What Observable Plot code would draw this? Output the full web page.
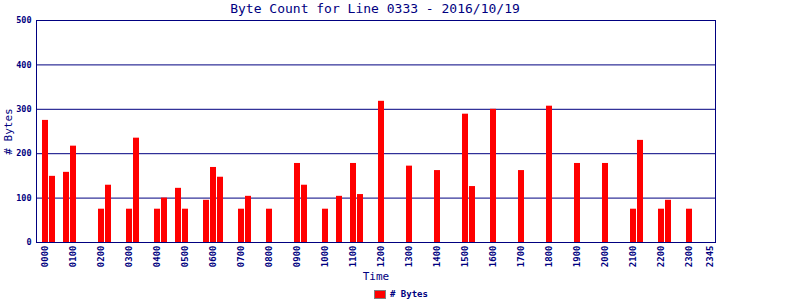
<!DOCTYPE html>
<html><head><meta charset="utf-8">
<script src="https://cdn.jsdelivr.net/npm/d3@7"></script>
<script src="https://cdn.jsdelivr.net/npm/@observablehq/plot@0.6"></script>
<style>
body{margin:0;background:#fff;width:800px;height:300px;overflow:hidden;font-family:"DejaVu Sans Mono",monospace;position:relative}
#title{position:absolute;top:0;left:375px;transform:translateX(-50%);white-space:nowrap;font-size:13px;line-height:18px;color:#000080}
#chart{position:absolute;top:0;left:0}
#legend{position:absolute;top:289px;left:374px;font-size:9px;line-height:11px;font-weight:bold;color:#000080;display:flex;align-items:center;gap:4px}
#legend i{display:inline-block;width:10px;height:7px;background:#ff0000;border:1px solid #808080}
</style></head>
<body>
<div id="chart"></div>
<div id="title">Byte Count for Line 0333 - 2016/10/19</div>
<div id="legend"><i></i><span># Bytes</span></div>
<script>
const slots = ["0000","0015","0030","0045","0100","0115","0130","0145","0200","0215","0230","0245",
"0300","0315","0330","0345","0400","0415","0430","0445","0500","0515","0530","0545",
"0600","0615","0630","0645","0700","0715","0730","0745","0800","0815","0830","0845",
"0900","0915","0930","0945","1000","1015","1030","1045","1100","1115","1130","1145",
"1200","1215","1230","1245","1300","1315","1330","1345","1400","1415","1430","1445",
"1500","1515","1530","1545","1600","1615","1630","1645","1700","1715","1730","1745",
"1800","1815","1830","1845","1900","1915","1930","1945","2000","2015","2030","2045",
"2100","2115","2130","2145","2200","2215","2230","2245","2300","2315","2330","2345"];
const tickLabels = ["0000","0100","0200","0300","0400","0500","0600","0700","0800","0900","1000","1100",
"1200","1300","1400","1500","1600","1700","1800","1900","2000","2100","2200","2300","2345"];
const barTimes = ["0000","0015","0045","0100","0200","0215","0300","0315","0400","0415","0445","0500",
"0545","0600","0615","0700","0715","0800","0900","0915","1000","1030","1100","1115","1200",
"1300","1400","1500","1515","1600","1700","1800","1900","2000","2100","2115","2200","2215","2300"];
const barBytes = [275,149,158,217,75,129,75,235,75,100,122,75,
95,169,147,75,104,75,178,129,75,104,178,108,318,
172,162,289,126,300,162,307,178,178,75,230,75,95,75];
const yTicks = [0,100,200,300,400,500];
const gridLines = [100,200,300,400,500];

const data = barTimes.map((t,i)=>({time:t, bytes:barBytes[i]}));
const navy = "#000080";
const chart = Plot.plot({
  width: 800, height: 285,
  marginLeft: 36, marginRight: 85, marginTop: 20, marginBottom: 43,
  style: {fontFamily: "'DejaVu Sans Mono', monospace", color: navy, background: "transparent"},
  x: {type: "band", domain: slots, range: [41, 713], paddingInner: 0.143, paddingOuter: 0},
  y: {domain: [0, 500]},
  marks: [
    Plot.ruleY(gridLines, {stroke: navy, strokeWidth: 1}),
    Plot.barY(data, {x: "time", y: "bytes", fill: "#ff0000"}),
    Plot.frame({stroke: navy, strokeWidth: 1}),
    Plot.axisY({ticks: yTicks, tickSize: 0, tickPadding: 5, fontSize: 8.5, fontWeight: "bold", fill: navy, label: null}),
    Plot.axisX({ticks: tickLabels, tickRotate: -90, tickSize: 0, tickPadding: 3, fontSize: 9, fontWeight: "bold", fill: navy, label: null}),
    Plot.text(["# Bytes"], {frameAnchor: "left", textAnchor: "middle", rotate: -90, dx: -28, fontSize: 11, fill: navy}),
    Plot.text(["Time"], {frameAnchor: "bottom", dy: 37, fontSize: 11, fill: navy})
  ]
});
document.getElementById("chart").appendChild(chart);
</script>
</body></html>
